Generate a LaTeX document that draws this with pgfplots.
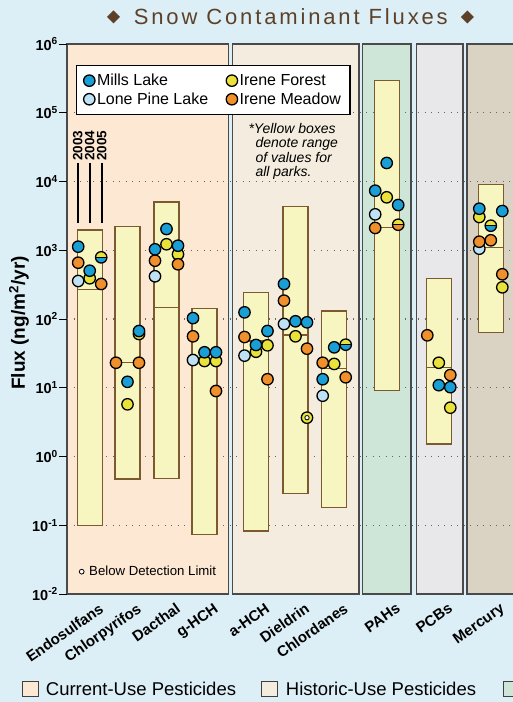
\documentclass[border=0pt]{standalone}
\usepackage{pgfplots}
\pgfplotsset{compat=1.18}
\usetikzlibrary{plotmarks}
\usepackage{fontspec}
\setmainfont{Liberation Sans}
\newfontfamily\titlefont[LetterSpace=13]{Liberation Sans}

\definecolor{bgblue}{HTML}{DDEFF6}
\definecolor{pcur}{HTML}{FDE8D3}
\definecolor{phist}{HTML}{F3ECDF}
\definecolor{ppah}{HTML}{CDE6D8}
\definecolor{ppcb}{HTML}{E8E8EA}
\definecolor{phg}{HTML}{DAD3C4}
\definecolor{boxy}{HTML}{F8F6C0}
\definecolor{boxe}{HTML}{7A5A2E}
\definecolor{mills}{HTML}{1A9ED6}
\definecolor{lone}{HTML}{BEE2F4}
\definecolor{forest}{HTML}{E9E23A}
\definecolor{meadow}{HTML}{F0902C}
\definecolor{titlec}{HTML}{5C4128}
\definecolor{panelline}{HTML}{4A4A4A}

\pgfplotsset{
  pt/.style={only marks, mark=*, mark size=5.7pt, mark options={fill=#1, draw=black, line width=1.3pt}},
  rangebox/.style={fill=boxy, draw=boxe, line width=1.2pt},
  medline/.style={boxe, line width=1.2pt},
}

\begin{document}
\begin{tikzpicture}[x=1pt,y=1pt]
\fill[bgblue] (0,0) rectangle (513,702);
\useasboundingbox (0,0) rectangle (513,702);
% panels
\begin{scope}[draw=panelline, line width=1.2pt]
\filldraw[fill=pcur] (67,108) rectangle (228.7,658);
\filldraw[fill=phist] (232.3,108) rectangle (359,658);
\filldraw[fill=ppah] (362.3,108) rectangle (411,658);
\filldraw[fill=ppcb] (416.3,108) rectangle (463,658);
\filldraw[fill=phg] (467,108) rectangle (525,658);
\end{scope}

\begin{axis}[
  at={(67pt,108pt)}, anchor=south west,
  scale only axis, width=446pt, height=550pt,
  xmin=67, xmax=513, ymode=log, ymin=1e-2, ymax=1e6,
  axis lines*=left, axis line style={draw=none},
  ytick={1e-1,1e0,1e1,1e2,1e3,1e4,1e5},
  yticklabels={\textbf{10}\textsuperscript{\textbf{-1}},\textbf{10}\textsuperscript{\textbf{0}},\textbf{10}\textsuperscript{\textbf{1}},\textbf{10}\textsuperscript{\textbf{2}},\textbf{10}\textsuperscript{\textbf{3}},\textbf{10}\textsuperscript{\textbf{4}},\textbf{10}\textsuperscript{\textbf{5}}},
  extra y ticks={1e-2,1e6},
  extra y tick labels={\textbf{10}\textsuperscript{\textbf{-2}},\textbf{10}\textsuperscript{\textbf{6}}},
  extra y tick style={grid=none},
  yminorticks=false,
  ymajorgrids,
  major grid style={draw=black!60, dash pattern=on 1.2pt off 5.3pt, line width=1.1pt},
  tick align=outside, major tick length=8pt,
  ytick style={black, line width=1pt},
  yticklabel style={font=\fontsize{14.5}{15}\selectfont, inner sep=1pt},
  xtick={89.7,127.5,166.5,204.5,256,295.5,334.2,386.7,438.8,490.8},
  xticklabels={Endosulfans,Chlorpyrifos,Dacthal,g-HCH,a-HCH,Dieldrin,Chlordanes,PAHs,PCBs,Mercury},
  xtick style={draw=none},
  xticklabel style={rotate=35, anchor=north east, inner sep=0pt, xshift=7pt, yshift=-5pt, font=\bfseries\fontsize{15}{16}\selectfont},
  legend columns=2,
  legend cell align=left,
  legend style={at={(axis description cs:0.0202,0.9618)}, anchor=north west,
    draw=black, line width=1.2pt, fill=white,
    font=\fontsize{16}{17}\selectfont,
    inner xsep=7pt, inner ysep=6.5pt, row sep=1.5pt,
    /tikz/every even column/.append style={column sep=16pt}},
  legend image code/.code={\draw[#1] plot coordinates {(0pt,0pt)};},
]
\addlegendimage{pt=mills}
\addlegendimage{pt=forest}
\addlegendimage{pt=lone}
\addlegendimage{pt=meadow}

% range boxes (low / high of all parks)
\addplot[rangebox, forget plot] coordinates {(77.2,0.10) (77.2,1970) (102.2,1970) (102.2,0.10)} --cycle;
\addplot[rangebox, forget plot] coordinates {(115,0.471) (115,2200) (140,2200) (140,0.471)} --cycle;
\addplot[rangebox, forget plot] coordinates {(154,0.475) (154,5035) (179,5035) (179,0.475)} --cycle;
\addplot[rangebox, forget plot] coordinates {(192,0.073) (192,141) (217,141) (217,0.073)} --cycle;
\addplot[rangebox, forget plot] coordinates {(243.5,0.0824) (243.5,244) (268.5,244) (268.5,0.0824)} --cycle;
\addplot[rangebox, forget plot] coordinates {(283,0.292) (283,4302) (308,4302) (308,0.292)} --cycle;
\addplot[rangebox, forget plot] coordinates {(321.7,0.182) (321.7,131) (346.7,131) (346.7,0.182)} --cycle;
\addplot[rangebox, forget plot] coordinates {(374.2,9.18) (374.2,2.93e5) (399.2,2.93e5) (399.2,9.18)} --cycle;
\addplot[rangebox, forget plot] coordinates {(426.3,1.52) (426.3,391) (451.3,391) (451.3,1.52)} --cycle;
\addplot[rangebox, forget plot] coordinates {(478.3,64.1) (478.3,9100) (503.3,9100) (503.3,64.1)} --cycle;

% inner lines
\addplot[medline, forget plot] coordinates {(77.2,270) (102.2,270)};
\addplot[medline, forget plot] coordinates {(115,23.1) (140,23.1)};
\addplot[medline, forget plot] coordinates {(154,148) (179,148)};
\addplot[medline, forget plot] coordinates {(243.5,47.9) (268.5,47.9)};
\addplot[medline, forget plot] coordinates {(283,58.5) (308,58.5)};
\addplot[medline, forget plot] coordinates {(321.7,19.2) (346.7,19.2)};
\addplot[medline, forget plot] coordinates {(374.2,2160) (399.2,2160)};
\addplot[medline, forget plot] coordinates {(426.3,19.8) (451.3,19.8)};
\addplot[medline, forget plot] coordinates {(478.3,1104) (503.3,1104)};

% Lone Pine Lake
\addplot[pt=lone, forget plot] coordinates {
(78.2,357) (155,418) (193,25.3) (244.5,29.3) (284,84.6) (322.7,7.66) (375.2,3330) (479.3,1054)};
% Irene Forest
\addplot[pt=forest, forget plot] coordinates {
(89.7,391) (127.5,5.74) (139,60.5) (166.5,1222) (178,873) (204.5,24.5) (216,24.5)
(256,33.4) (267.5,41.4) (295.5,56.0) (307,3.67) (334.2,22.2) (386.7,5890)
(438.8,23.1) (450.3,5.13) (479.3,3045) (502.3,289)};
% Irene Meadow
\addplot[pt=meadow, forget plot] coordinates {
(78.2,659) (101.2,323) (116,23.1) (139,23.1) (155,705) (178,625) (193,56.0) (216,8.97)
(244.5,54.7) (267.5,13.3) (284,185) (307,37.0) (322.7,23.1) (345.7,14.2) (375.2,2110)
(427.3,57.9) (450.3,15.3) (479.3,1331) (490.8,1396) (502.3,447)};
% Mills Lake
\addplot[pt=mills, forget plot] coordinates {
(78.2,1127) (89.7,504) (127.5,12.2) (139,66.9) (155,1032) (166.5,2037) (178,1165)
(193,103) (204.5,32.8) (216,32.8) (244.5,125) (256,41.9) (267.5,66.9)
(284,323) (295.5,92.6) (307,89.5) (322.7,13.3) (334.2,38.7)
(375.2,7350) (386.7,18600) (398.2,4550) (438.8,10.9) (450.3,10.2) (479.3,4020) (502.3,3720)};
% equal values: Mills Lake (top) and Irene Forest (bottom)
\addplot[only marks, mark=halfcircle*, mark size=5.7pt, forget plot,
  mark options={fill=forest, mark color=mills, draw=black, line width=1.3pt}]
  coordinates {(101.2,789) (345.7,42.3) (490.8,2275)};
% equal values: Irene Meadow (top) and Irene Forest (bottom)
\addplot[only marks, mark=halfcircle*, mark size=5.7pt, forget plot,
  mark options={fill=forest, mark color=meadow, draw=black, line width=1.3pt}]
  coordinates {(398.2,2350)};
\addplot[only marks, mark=-, mark size=5.7pt, forget plot, mark options={draw=black, line width=1pt}]
  coordinates {(101.2,789) (345.7,42.3) (490.8,2275) (398.2,2350)};
% below detection limit
\addplot[only marks, mark=*, mark size=2.2pt, forget plot, mark options={fill=white, draw=black, line width=0.8pt}]
  coordinates {(307,3.67)};

\legend{Mills Lake, Irene Forest, Lone Pine Lake, Irene Meadow}
\end{axis}

% title
\fill[titlec] (113.5,691.5) -- (120,685) -- (113.5,678.5) -- (107,685) -- cycle;
\fill[titlec] (467.3,691.5) -- (473.8,685) -- (467.3,678.5) -- (460.8,685) -- cycle;
\node[text=titlec, font=\titlefont\fontsize{22}{24}\selectfont, inner sep=0pt] at (290.8,685) {Snow Contaminant Fluxes};

% y label
\node[rotate=90, font=\bfseries\fontsize{19}{20}\selectfont, inner sep=0pt] at (19,379) {Flux (ng/m\textsuperscript{2}/yr)};

% year labels and lines
\foreach \xx/\yr in {77.7/2003, 89.7/2004, 101.7/2005}{
  \node[rotate=90, anchor=west, inner sep=0pt, font=\bfseries\fontsize{13.5}{14}\selectfont] at (\xx,541) {\yr};
  \draw[line width=2pt] (\xx,539) -- (\xx,479);
}

% note
\node[anchor=north west, inner sep=0pt, align=left, font=\itshape\fontsize{14}{14.5}\selectfont] at (248.3,579)
 {*Yellow boxes\\\hspace*{7pt}denote range\\\hspace*{7pt}of values for\\\hspace*{7pt}all parks.};

% below detection limit note
\draw[fill=white, line width=0.8pt] (81.7,130.3) circle (2.4);
\node[anchor=base west, inner sep=0pt, font=\fontsize{13.2}{14}\selectfont] at (89,126) {Below Detection Limit};

% bottom legend
\draw[fill=pcur, draw=black!75, line width=0.9pt] (22.3,5.3) rectangle (38.3,20.3);
\node[anchor=base west, inner sep=0pt, font=\fontsize{18.5}{20}\selectfont] at (45.7,6.3) {Current-Use Pesticides};
\draw[fill=phist, draw=black!75, line width=0.9pt] (261.5,5.3) rectangle (277.5,20.3);
\node[anchor=base west, inner sep=0pt, font=\fontsize{18.5}{20}\selectfont] at (285.7,6.3) {Historic-Use Pesticides};
\draw[fill=ppah, draw=black!75, line width=0.9pt] (503,5.3) rectangle (519,20.3);
\end{tikzpicture}
\end{document}
